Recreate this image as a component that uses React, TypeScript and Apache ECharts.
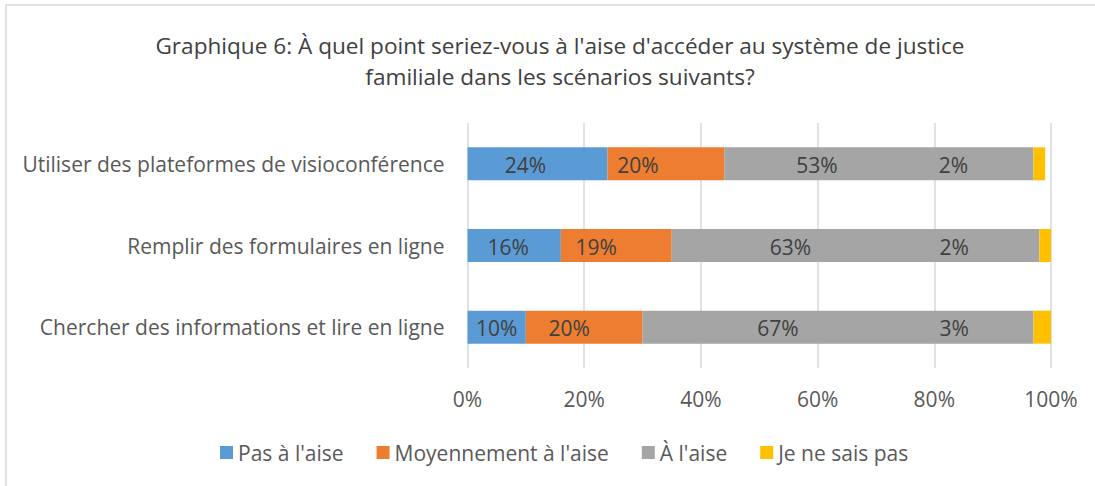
import React, { useEffect, useRef } from "react";
import * as echarts from "echarts";

const titleLines = [
  "Graphique 6: À quel point seriez-vous à l'aise d'accéder au système de justice",
  "familiale dans les scénarios suivants?",
];
const categories = [
  "Utiliser des plateformes de visioconférence",
  "Remplir des formulaires en ligne",
  "Chercher des informations et lire en ligne",
];
const seriesNames = ["Pas à l'aise", "Moyennement à l'aise", "À l'aise", "Je ne sais pas"];
const pasALaise = [24, 16, 10];
const moyennement = [20, 19, 20];
const aLaise = [53, 63, 67];
const neSaisPas = [2, 2, 3];
const xMin = 0;
const xMax = 100;
const xInterval = 20;

const colors = ["#5B9BD5", "#ED7D31", "#A5A5A5", "#FFC000"];
// horizontal label shifts (px) replicating the reference's label placement
const labelShift = [
  [-12, -6, 0],
  [-28, -20, -15],
  [-62, -65, -60],
  [-86, -91, -88],
];

const FONT = "Open Sans";
const FS = 21;

export default function App() {
  const ref = useRef<HTMLDivElement>(null);
  useEffect(() => {
    if (!ref.current) return;
    const chart = echarts.init(ref.current, null, { renderer: "svg" });
    const values = [pasALaise, moyennement, aLaise, neSaisPas];
    const series = values.map((vals, si) => ({
      name: seriesNames[si],
      type: "bar",
      stack: "total",
      barWidth: "40.4%",
      itemStyle: { color: colors[si] },
      data: vals.map((v, i) => ({
        value: v,
        label: { offset: [labelShift[si][i], 1] },
      })),
      label: {
        show: true,
        position: "inside",
        formatter: "{c}%",
        fontFamily: FONT,
        fontSize: FS,
        color: "#404040",
      },
    }));
    chart.setOption({
      animation: false,
      backgroundColor: "#ffffff",
      textStyle: { fontFamily: FONT },
      grid: { left: 467.5, right: 44, top: 123, bottom: 118, containLabel: false },
      xAxis: {
        type: "value",
        min: xMin,
        max: xMax,
        interval: xInterval,
        axisLine: { show: false },
        axisTick: { show: false },
        splitLine: { show: true, lineStyle: { color: "#D9D9D9", width: 1.5 } },
        axisLabel: {
          formatter: "{value}%",
          fontFamily: FONT,
          fontSize: FS,
          color: "#595959",
          margin: 20,
        },
      },
      yAxis: {
        type: "category",
        inverse: true,
        data: categories,
        axisLine: { show: false },
        axisTick: { show: false },
        axisLabel: {
          fontFamily: FONT,
          fontSize: FS,
          color: "#595959",
          margin: 23,
        },
      },
      legend: {
        top: 437,
        left: 215,
        icon: "rect",
        itemWidth: 13,
        itemHeight: 13,
        itemGap: 33,
        textStyle: { fontFamily: FONT, fontSize: FS, color: "#595959" },
        data: seriesNames,
      },
      graphic: [
        {
          type: "rect",
          shape: { x: 6, y: 5, width: 1200, height: 600 },
          style: { fill: "none", stroke: "#D9D9D9", lineWidth: 1.5 },
          silent: true,
          z: -1,
        },
        ...titleLines.map((t, i) => ({
          type: "text",
          x: 560,
          y: 45 + i * 31,
          style: {
            text: t,
            fill: "#404040",
            font: `22.6px ${FONT}`,
            align: "center",
            verticalAlign: "middle",
          },
        })),
      ],
      series,
    });
    return () => chart.dispose();
  }, []);
  return (
    <div
      ref={ref}
      style={{ position: "absolute", left: 0, top: 0, width: 1095, height: 486 }}
    />
  );
}
